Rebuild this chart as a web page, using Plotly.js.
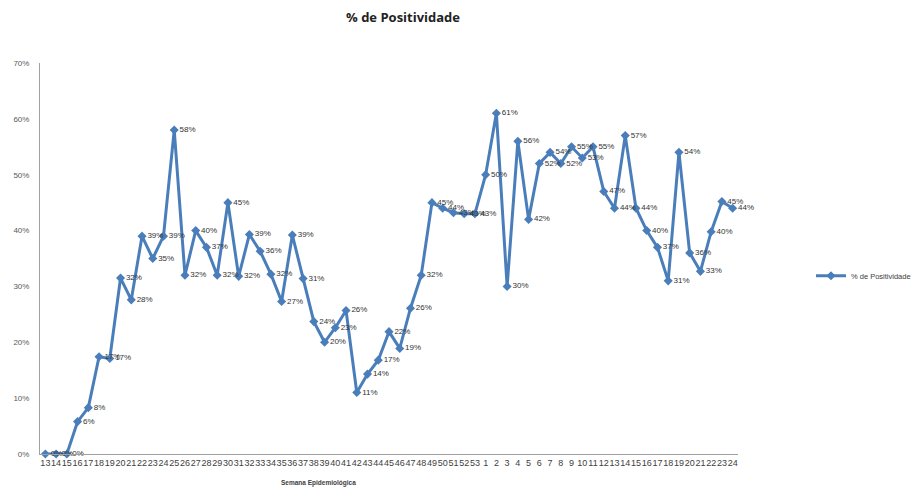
<!DOCTYPE html>
<html>
<head>
<meta charset="utf-8">
<script src="https://cdn.plot.ly/plotly-3.0.1.min.js"></script>
<style>html,body{margin:0;padding:0;background:#fff;}#chart{width:916px;height:489px;}</style>
</head>
<body>
<div id="chart"></div>
<script>
const weeks = ["13","14","15","16","17","18","19","20","21","22","23","24","25","26","27","28","29","30","31","32","33","34","35","36","37","38","39","40","41","42","43","44","45","46","47","48","49","50","51","52","53","1","2","3","4","5","6","7","8","9","10","11","12","13","14","15","16","17","18","19","20","21","22","23","24"];
const positivity = [0,0,0,5.8,8.3,17.4,17.1,31.5,27.6,39,35,39,58,32,40,37,32,45,31.8,39.3,36.3,32.2,27.3,39.2,31.4,23.7,20,22.6,25.7,11,14.3,16.8,21.9,18.9,26.1,32,45,44,43.2,43,43,50,61,30,56,42,52,54,52,55,53,55,47,44,57,44,40,37,31,54,36,32.7,39.8,45.2,44];
const yTicks = [0,10,20,30,40,50,60,70];

const idx = weeks.map((w,i)=>i);
const labels = positivity.map(v=>Math.round(v)+'%');

const trace = {
  x: idx,
  y: positivity,
  text: labels,
  name: '% de Positividade',
  type: 'scatter',
  mode: 'lines+markers+text',
  textposition: 'middle right',
  textfont: {family: 'Liberation Sans, Arial, sans-serif', size: 8, color: '#333333'},
  line: {color: '#4a7ebb', width: 3},
  marker: {symbol: 'diamond', size: 7, color: '#4a7ebb'},
  cliponaxis: false
};

const layout = {
  width: 916, height: 489,
  margin: {l: 40, r: 178, t: 63, b: 35, autoexpand: false},
  paper_bgcolor: '#fff', plot_bgcolor: '#fff',
  font: {family: 'Liberation Sans, Arial, sans-serif', color: '#404040'},
  title: {text: '<b>% de Positividade</b>', x: 0.44, xanchor: 'center', y: 0.965, yanchor: 'middle',
          font: {family: 'Open Sans, Liberation Sans, sans-serif', size: 13, color: '#222'}},
  showlegend: true,
  legend: {xref: 'container', x: 1.0, xanchor: 'right', y: 0.456, yanchor: 'middle',
           font: {size: 7.5, color: '#404040'}, itemwidth: 30, bgcolor: 'rgba(0,0,0,0)'},
  xaxis: {
    range: [-0.5, 64.5],
    tickmode: 'array', tickvals: idx, ticktext: weeks, tickangle: 0,
    tickfont: {size: 9, color: '#404040', family: 'Liberation Sans Narrow, Liberation Sans, sans-serif'},
    showgrid: false, zeroline: false, showline: true, linecolor: '#a0a0a0', linewidth: 1,
    ticks: '', fixedrange: true
  },
  yaxis: {
    range: [0, 70],
    tickmode: 'array', tickvals: yTicks, ticktext: yTicks.map(v=>v+'%'),
    tickfont: {size: 8, color: '#595959'}, ticklabelstandoff: 8,
    showgrid: false, zeroline: false, showline: true, linecolor: '#a0a0a0', linewidth: 1,
    ticks: '', ticklen: 0, fixedrange: true
  },
  annotations: [{
    text: '<b>Semana Epidemiológica</b>', xref: 'paper', yref: 'paper',
    x: (318 - 40) / 698, y: -0.075, xanchor: 'center', yanchor: 'middle',
    showarrow: false, font: {size: 6.5, color: '#404040'}
  }]
};

Plotly.newPlot('chart', [trace], layout, {displayModeBar: false, staticPlot: true});
</script>
</body>
</html>
